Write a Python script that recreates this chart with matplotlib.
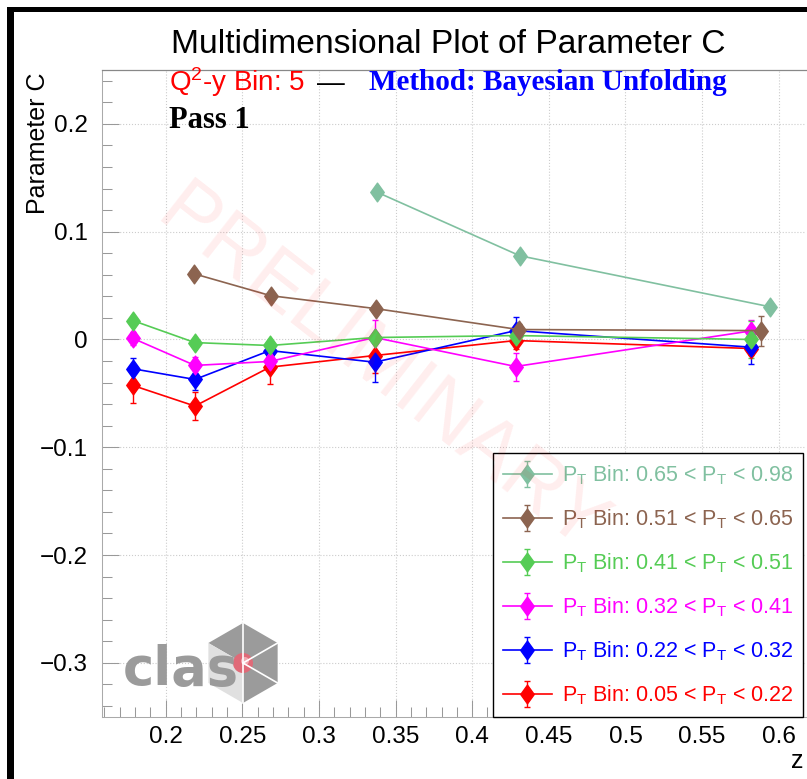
import numpy as np
import matplotlib
matplotlib.use('Agg')
import matplotlib.pyplot as plt
from matplotlib.patches import Polygon, Rectangle, Circle
from matplotlib.path import Path
from matplotlib.transforms import Affine2D
from matplotlib.container import ErrorbarContainer
from matplotlib.legend_handler import HandlerErrorbar
from matplotlib.ticker import FixedLocator, MultipleLocator, FuncFormatter

plt.rcParams['font.family'] = ['Liberation Sans', 'DejaVu Sans']
plt.rcParams['mathtext.default'] = 'regular'

W, H = 807, 779

# one entry per PT bin, lowest bin first
bin_labels = ['P$_{T}$ Bin: 0.05 < P$_{T}$ < 0.22',
              'P$_{T}$ Bin: 0.22 < P$_{T}$ < 0.32',
              'P$_{T}$ Bin: 0.32 < P$_{T}$ < 0.41',
              'P$_{T}$ Bin: 0.41 < P$_{T}$ < 0.51',
              'P$_{T}$ Bin: 0.51 < P$_{T}$ < 0.65',
              'P$_{T}$ Bin: 0.65 < P$_{T}$ < 0.98']
bin_colors = ['#ff0000', '#0000ff', '#ff00ff', '#55cc55', '#8c6450', '#80c0a0']

z_red = [0.1787, 0.2191, 0.2680, 0.3364, 0.4284, 0.5822]
c_red = [-0.0427, -0.0618, -0.0257, -0.0149, -0.0010, -0.0084]
e_red = [0.016, 0.013, 0.016, 0.016, 0.008, 0.006]

z_blue = [0.1787, 0.2191, 0.2680, 0.3364, 0.4284, 0.5822]
c_blue = [-0.0272, -0.0371, -0.0103, -0.0211, 0.0082, -0.0072]
e_blue = [0.010, 0.010, 0.005, 0.018, 0.013, 0.016]

z_mag = [0.1787, 0.2191, 0.2680, 0.3364, 0.4284, 0.5822]
c_mag = [0.0010, -0.0241, -0.0204, 0.0018, -0.0251, 0.0080]
e_mag = [0.006, 0.008, 0.006, 0.016, 0.013, 0.010]

z_green = [0.1787, 0.2191, 0.2680, 0.3364, 0.4284, 0.5822]
c_green = [0.0175, -0.0029, -0.0056, 0.0018, 0.0036, 0.0000]
e_green = [0.003, 0.003, 0.004, 0.003, 0.004, 0.017]

z_brown = [0.2184, 0.2686, 0.3371, 0.4303, 0.5887]
c_brown = [0.0610, 0.0406, 0.0286, 0.0092, 0.0082]
e_brown = [0.004, 0.003, 0.004, 0.005, 0.014]

z_teal = [0.3377, 0.4310, 0.5940]
c_teal = [0.1368, 0.0777, 0.0304]
e_teal = [0.004, 0.004, 0.004]

series = [(z_red, c_red, e_red), (z_blue, c_blue, e_blue), (z_mag, c_mag, e_mag),
          (z_green, c_green, e_green), (z_brown, c_brown, e_brown), (z_teal, c_teal, e_teal)]

diamond = Path([(0, 1), (0.72, 0), (0, -1), (-0.72, 0), (0, 1)], closed=True)

fig = plt.figure(figsize=(W / 100, H / 100), dpi=100)
# pixel coordinates measured from the top-left corner
pix = Affine2D().scale(1, -1).translate(0, H)

ax = fig.add_axes([101.7 / W, 62.3 / H, (806 - 101.7) / W, (716.7 - 70) / H])

handles = []
for (z, c, e), col in zip(series, bin_colors):
    h = ax.errorbar(z, c, yerr=e, color=col, marker=diamond, markersize=13.5,
                    linewidth=1.2, elinewidth=1.0, capsize=2.5, capthick=1.0)
    handles.append(h)

ax.set_xlim(0.1583, 0.6178)
ax.set_ylim(-0.35, 0.25)
ax.xaxis.set_major_locator(FixedLocator(np.arange(0.2, 0.601, 0.05)))
ax.xaxis.set_minor_locator(MultipleLocator(0.01))
ax.yaxis.set_major_locator(FixedLocator([-0.3, -0.2, -0.1, 0.0, 0.1, 0.2]))
ax.yaxis.set_minor_locator(MultipleLocator(0.02))
fmt = FuncFormatter(lambda v, p: ('%g' % round(v, 3)).replace('-', '\u2212'))
ax.xaxis.set_major_formatter(fmt)
ax.yaxis.set_major_formatter(fmt)

ax.tick_params(which='both', direction='in', color='#999999', width=0.75, labelsize=17.5)
ax.tick_params(which='major', length=12)
ax.tick_params(which='minor', length=7)
ax.tick_params(axis='y', pad=10)
ax.tick_params(axis='x', pad=7)
ax.grid(True, which='major', color='#cccccc', linestyle=':', linewidth=0.8)
ax.set_axisbelow(True)
for s in ['left', 'bottom']:
    ax.spines[s].set_color('#aaaaaa')
    ax.spines[s].set_linewidth(0.75)
ax.spines['top'].set_color('#888888')
ax.spines['top'].set_linewidth(0.9)
ax.spines['right'].set_visible(False)

leg = ax.legend(handles[::-1], bin_labels[::-1], loc='lower right',
                bbox_to_anchor=(803, 716.7), bbox_transform=pix, borderaxespad=0,
                fontsize=15.5, handlelength=2.3, handletextpad=0.45, labelspacing=0.95,
                borderpad=0.45, fancybox=False, framealpha=1, edgecolor='black',
                handler_map={ErrorbarContainer: HandlerErrorbar(yerr_size=0.6)})
leg.get_frame().set_linewidth(1.0)
for t, col in zip(leg.get_texts(), bin_colors[::-1]):
    t.set_color(col)

# titles and labels
fig.text(448, 53, 'Multidimensional Plot of Parameter C', transform=pix,
         ha='center', va='baseline', fontsize=24.2)
fig.text(169, 91, 'Q$^{2}$-y Bin: 5', transform=pix, color='red',
         fontsize=20, va='baseline')
fig.text(317, 91, '\u2014', transform=pix, color='black', fontsize=20, va='baseline')
fig.text(369, 90, 'Method: Bayesian Unfolding', transform=pix, color='blue',
         fontsize=21, fontweight='bold', family='Liberation Serif', va='baseline')
fig.text(169, 128, 'Pass 1', transform=pix, fontsize=22, fontweight='bold',
         family='Liberation Serif', va='baseline')
fig.text(38, 73, 'Parameter C', transform=pix, rotation=90, ha='center', va='top', fontsize=18)
fig.text(804, 768, 'z', transform=pix, ha='right', va='baseline', fontsize=18)

fig.text(380, 372, 'PRELIMINARY', transform=pix, rotation=-38, ha='center', va='center',
         fontsize=58, color='red', alpha=0.07)

# clas logo
cx, cy, R = 243, 663, 40
def vert(a):
    return (cx + R * np.cos(np.radians(a)), cy - R * np.sin(np.radians(a)))
faces = [([150, 90, 30], '#9b9b9b'), ([30, -30, -90], '#9b9b9b'), ([-90, -150, 150], '#e0e0e0')]
for angs, col in faces:
    fig.add_artist(Polygon([(cx, cy)] + [vert(a) for a in angs], closed=True,
                           facecolor=col, edgecolor='none', transform=pix))
for a in [90, 30, -30, -90]:
    x1, y1 = vert(a)
    fig.add_artist(plt.Line2D([cx, x1], [cy, y1], color='white', linewidth=1.2, transform=pix))
fig.text(123, 685, 'clas', transform=pix, fontsize=38, fontweight='bold',
         family='DejaVu Sans', color='#9b9b9b', va='baseline')
fig.add_artist(Circle((cx, cy), 10, facecolor='#e06a78', edgecolor='none', transform=pix))
fig.add_artist(Circle((cx + 2, cy - 2), 4, facecolor='#f2aab2', edgecolor='none', transform=pix))

# canvas border
fig.add_artist(Rectangle((7, 7), 7, H - 7, facecolor='black', edgecolor='none', transform=pix))
fig.add_artist(Rectangle((7, 7), W - 7, 5, facecolor='black', edgecolor='none', transform=pix))

fig.savefig('out.png', dpi=100)
